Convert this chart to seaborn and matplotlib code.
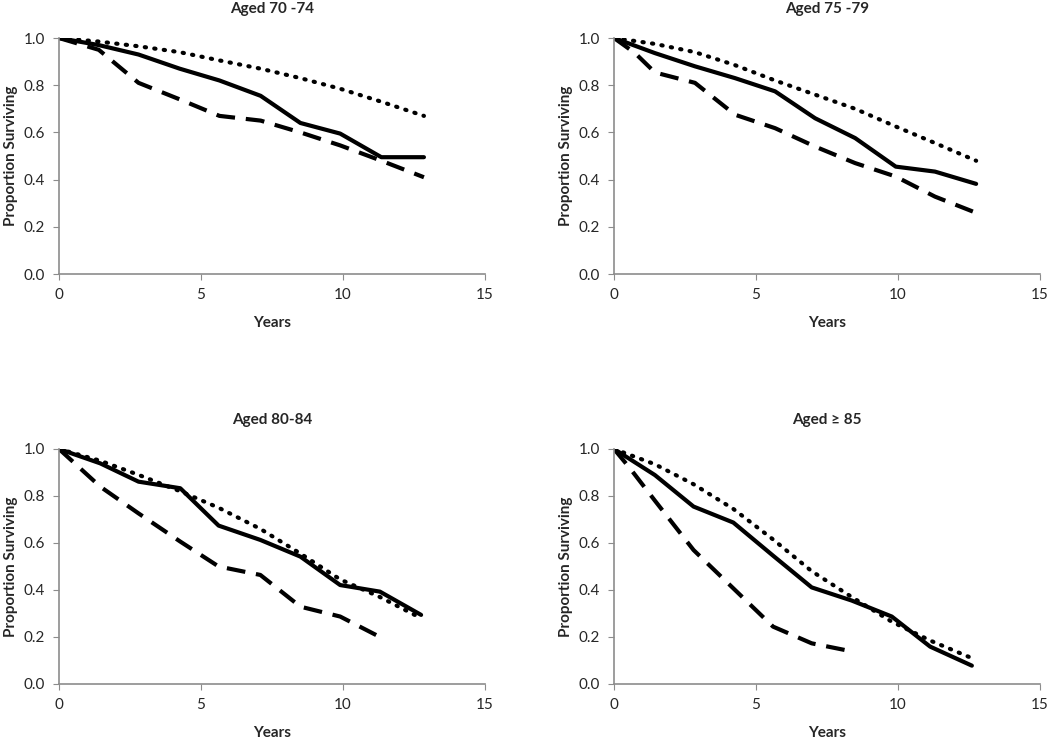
import matplotlib
matplotlib.use("Agg")
import matplotlib.pyplot as plt
import seaborn as sns

# follow-up times (years)
years_a = [0, 1.4, 2.8, 4.25, 5.65, 7.1, 8.5, 9.9, 11.35, 12.85]
years_b = [0, 1.44, 2.85, 4.26, 5.67, 7.08, 8.49, 9.92, 11.3, 12.75]
years_c = [0, 1.45, 2.8, 4.27, 5.62, 7.09, 8.5, 9.9, 11.3, 12.75]
years_d = [0, 1.44, 2.8, 4.2, 5.6, 6.96, 8.37, 9.78, 11.13, 12.6]

# Aged 70-74
solid_a = [1.0, 0.97, 0.93, 0.87, 0.82, 0.755, 0.64, 0.595, 0.495, 0.495]
dashed_a = [1.0, 0.95, 0.81, 0.74, 0.67, 0.65, 0.60, 0.545, 0.48, 0.41]
dotted_a = [1.0, 0.985, 0.965, 0.94, 0.905, 0.87, 0.83, 0.785, 0.73, 0.67]

# Aged 75-79
solid_b = [1.0, 0.936, 0.88, 0.83, 0.774, 0.66, 0.576, 0.455, 0.434, 0.382]
dashed_b_x = [0, 0.74, 1.44, 2.85, 4.26, 5.67, 7.08, 8.49, 9.92, 11.3, 12.65]
dashed_b = [1.0, 0.936, 0.854, 0.81, 0.675, 0.618, 0.54, 0.47, 0.413, 0.328, 0.264]
dotted_b = [1.0, 0.975, 0.94, 0.885, 0.82, 0.76, 0.70, 0.625, 0.555, 0.48]

# Aged 80-84
solid_c = [1.0, 0.939, 0.861, 0.833, 0.674, 0.613, 0.542, 0.421, 0.393, 0.294]
dashed_c = [1.0, 0.84, 0.726, 0.606, 0.50, 0.464, 0.329, 0.287, 0.20]
dotted_c = [1.0, 0.95, 0.89, 0.82, 0.75, 0.66, 0.555, 0.445, 0.37, 0.28]

# Aged >= 85
solid_d = [1.0, 0.889, 0.755, 0.687, 0.546, 0.411, 0.355, 0.287, 0.159, 0.078]
dashed_d_x = [0, 0.56, 1.44, 2.8, 4.2, 5.6, 6.96, 8.4]
dashed_d = [1.0, 0.918, 0.78, 0.57, 0.407, 0.244, 0.173, 0.138]
dotted_d = [1.0, 0.935, 0.85, 0.745, 0.615, 0.48, 0.37, 0.265, 0.185, 0.11]

titles = ["Aged 70 -74", "Aged 75 -79", "Aged 80-84", "Aged \u2265 85"]

panels = [
    (years_a, solid_a, years_a, dashed_a, years_a, dotted_a),
    (years_b, solid_b, dashed_b_x, dashed_b, years_b, dotted_b),
    (years_c, solid_c, years_c[:9], dashed_c, years_c, dotted_c),
    (years_d, solid_d, dashed_d_x, dashed_d, years_d, dotted_d),
]

sns.set_style("ticks")
plt.rcParams["font.family"] = ["Lato", "DejaVu Sans"]

fig = plt.figure(figsize=(10.5, 7.38), dpi=100)
boxes = [
    [0.0562, 0.6287, 0.4057, 0.3198],
    [0.5848, 0.6287, 0.4057, 0.3198],
    [0.0562, 0.0732, 0.4057, 0.3184],
    [0.5848, 0.0732, 0.4057, 0.3184],
]

for box, title, (xs, ys, xd, yd, xo, yo) in zip(boxes, titles, panels):
    ax = fig.add_axes(box)
    sns.lineplot(x=xo, y=yo, ax=ax, color="black", lw=3,
                 linestyle=(0, (0.3, 2.0)), dash_capstyle="round")
    sns.lineplot(x=xd, y=yd, ax=ax, color="black", lw=3,
                 linestyle=(0, (4.5, 2.6)))
    sns.lineplot(x=xs, y=ys, ax=ax, color="black", lw=3)

    ax.set_xlim(0, 15)
    ax.set_ylim(0, 1.0)
    ax.set_xticks([0, 5, 10, 15])
    ax.set_yticks([0, 0.2, 0.4, 0.6, 0.8, 1.0])
    ax.set_yticklabels([f"{v:.1f}" for v in [0, 0.2, 0.4, 0.6, 0.8, 1.0]])
    ax.tick_params(labelsize=11, length=4, color="#8c8c8c", pad=6)
    for s in ["left", "bottom"]:
        ax.spines[s].set_color("#8c8c8c")
        ax.spines[s].set_linewidth(1.2)
    sns.despine(ax=ax)
    ax.set_title(title, fontsize=11, fontweight="bold", pad=18)
    ax.set_xlabel("Years", fontsize=11, fontweight="bold", labelpad=10)
    ax.set_ylabel("Proportion Surviving", fontsize=11, fontweight="bold", labelpad=4)

fig.savefig("out.png", dpi=100)
